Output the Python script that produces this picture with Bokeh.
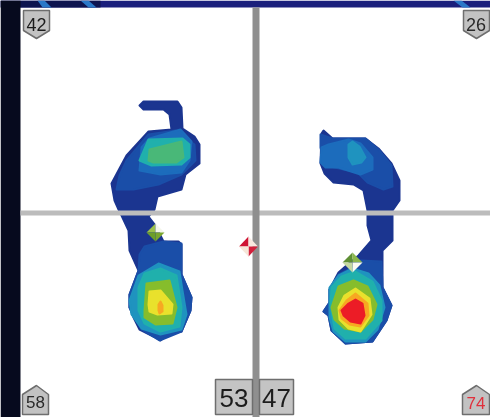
from bokeh.plotting import figure
from bokeh.models import Range1d
from bokeh.core.properties import value
from bokeh.embed import file_html
from bokeh.resources import INLINE

# Pressure-map colour scale, lowest to highest
LEVEL_COLORS = ["#1b3590", "#1a4ea8", "#1c6cbc", "#1f93bf", "#20b0ac", "#49b878", "#86bd2c", "#e9e12c", "#f7a822", "#ec1c26"]

# Foot outlines
foot_left_outer = [(139,105),(143,101),(177,101),(181,107),(182,128),(194,136),(199,144),(199,163),(185,174),(181,189),(157,196),(154,209),(148,216),(155,225),(163,241),(178,241),(181,244),(181,274),(191,297),(190,310),(181,331),(167,334),(160,340),(153,336),(139,329),(133,317),(129,307),(129,294),(138,270),(129,250),(128,230),(121,215),(118,209),(114,200),(111,183),(119,168),(126,155),(148,131),(171,129),(169,114),(163,109),(143,109)]
foot_right_outer = [(321,133),(323,130),(332,138),(365,138),(378,148),(391,163),(399,180),(399,200),(392,210),(392,240),(382,250),(382,287),(391,305),(386,320),(372,341),(345,343),(331,330),(328,315),(323,311),(329,302),(329,289),(338,272),(346,265),(358,255),(371,240),(367,225),(367,210),(363,190),(353,184),(333,182),(324,173),(320,163)]

# Contour bands: (level index, outline)
left_fore_bands = [
    (1, [(119,175),(126,160),(148,134),(175,130),(194,144),(195,160),(181,174),(158,184),(133,189),(116,189)]),
    (2, [(139,170),(141,147),(149,138),(180,129),(191,141),(189,160),(181,172),(160,174)]),
    (4, [(139,160),(148,139),(182,138),(189,144),(189,157),(181,164),(151,165)]),
    (5, [(148,160),(149,149),(181,141),(183,157),(176,162),(153,162)]),
]
left_heel_bands = [
    (1, [(139,254),(144,246),(163,241),(181,243),(181,274),(191,297),(190,310),(181,331),(159,340),(141,329),(129,307),(129,294),(138,270)]),
    (3, [(129,300),(138,275),(158,263),(179,271),(182,290),(186,314),(181,329),(160,334),(141,328),(131,314)]),
    (4, [(138,310),(138,287),(144,273),(160,268),(176,275),(181,307),(179,326),(160,331),(144,323)]),
    (6, [(144,310),(146,283),(169,280),(176,307),(172,323),(155,324),(144,317)]),
    (7, [(148,304),(149,291),(160,290),(172,304),(171,313),(157,314),(149,311)]),
    (8, [(158,304),(160,301),(162,305),(162,311),(159,313),(158,310)]),
]
right_fore_bands = [
    (1, [(320,134),(332,138),(365,138),(378,149),(391,165),(392,186),(383,189),(367,182),(357,172),(343,169),(330,166),(323,162),(320,147)]),
    (2, [(321,147),(328,144),(348,139),(360,143),(372,157),(372,169),(360,174),(338,167),(325,167),(320,162)]),
    (3, [(348,144),(352,141),(359,146),(365,157),(361,162),(352,164),(348,157)]),
]
right_heel_bands = [
    (1, [(346,270),(360,260),(381,261),(382,287),(391,305),(386,320),(372,341),(345,343),(331,330),(328,315),(323,311),(329,302),(329,289),(338,274)]),
    (3, [(329,287),(338,275),(352,268),(368,273),(379,285),(384,307),(377,329),(365,341),(345,341),(333,331),(329,317)]),
    (4, [(330,304),(331,287),(341,276),(355,271),(372,281),(381,300),(381,320),(365,338),(345,338),(334,328)]),
    (6, [(331,307),(338,286),(353,280),(367,286),(376,304),(372,319),(360,331),(344,328),(334,319)]),
    (7, [(338,307),(344,295),(355,288),(369,298),(371,314),(360,331),(348,328),(339,319)]),
    (8, [(339,310),(346,300),(355,293),(367,303),(368,315),(360,326),(349,324),(341,318)]),
    (9, [(341,310),(348,303),(355,299),(362,303),(364,315),(360,323),(350,321),(343,315)]),
]

# Balance markers: centre x, centre y, half-width, half-height, NW/NE/SE/SW colours
marker_x = [155, 352, 248]
marker_y = [232, 262, 246]
marker_hw = [9, 10, 9.5]
marker_hh = [9, 10, 10]
marker_colors = [
    ["#9cc04c", "#f4f6ea", "#7aa62e", "#6c9e2a"],
    ["#5f8f34", "#8cb84c", "#fbfbf2", "#c4d8a0"],
    ["#cf1434", "#f8e8e0", "#d2203c", "#f6e6d8"],
]

# Badges
badge_labels = ["42", "26", "58", "74"]
badge_text_colors = ["#1c1c1c", "#2a2a2a", "#2a2a2a", "#e0303c"]
badge_text_x = [36, 475.5, 35, 475.5]
badge_text_y = [24, 24, 401, 402]
badge_text_sizes = ["18px", "18px", "17px", "17px"]
badge_outlines = [
    [(23,10),(49,10),(49,30),(36,38),(23,30)],
    [(463,10),(489,10),(489,30),(476,38),(463,30)],
    [(22,394),(36,385),(48,394),(48,414),(22,414)],
    [(462,394),(476,385),(489,394),(489,414),(462,414)],
]
box_labels = ["53", "47"]
box_left = [215, 259]
box_right = [252, 293]
box_top = 379
box_bottom = 414


def xs_of(pts):
    return [q[0] for q in pts]


def ys_of(pts):
    return [q[1] for q in pts]


def blob(pts, color):
    p.patch(xs_of(pts), ys_of(pts), fill_color=color, line_color=color,
            line_width=2, line_join="round")


p = figure(width=490, height=417, output_backend="svg", toolbar_location=None,
           x_range=Range1d(0, 490), y_range=Range1d(417, 0), min_border=0)
p.axis.visible = False
p.grid.visible = False
p.outline_line_color = None
p.background_fill_color = "#ffffff"
p.styles = {"position": "fixed", "left": "0", "top": "0"}

# Dark slide behind the white panel
p.quad(left=[0], right=[490], top=[0], bottom=[7], fill_color="#1a1f7c", line_color=None)
p.quad(left=[0], right=[100], top=[0], bottom=[7], fill_color="#0e1550", line_color=None)
p.quad(left=[0], right=[20], top=[0], bottom=[417], fill_color="#060a1e", line_color=None)
for sx in ([37, 44, 51, 42], [80, 88, 96, 88], [453, 461, 470, 462]):
    p.patch(sx, [0, 0, 7, 7], fill_color="#2a78c8", line_color=None)

# Feet
blob(foot_left_outer, LEVEL_COLORS[0])
blob(foot_right_outer, LEVEL_COLORS[0])
for bands in (left_fore_bands, left_heel_bands, right_fore_bands, right_heel_bands):
    for lvl, pts in bands:
        blob(pts, LEVEL_COLORS[lvl])

# Cross lines
p.quad(left=[20], right=[490], top=[210], bottom=[215], fill_color="#bcbcbc", line_color=None)
p.quad(left=[252], right=[259], top=[7], bottom=[417], fill_color="#8f8f8f", line_color=None)

# Markers
for cx, cy, hw, hh, cols in zip(marker_x, marker_y, marker_hw, marker_hh, marker_colors):
    tris_x = [[cx, cx - hw, cx], [cx, cx, cx + hw], [cx, cx + hw, cx], [cx, cx, cx - hw]]
    tris_y = [[cy, cy, cy - hh], [cy, cy - hh, cy], [cy, cy, cy + hh], [cy, cy + hh, cy]]
    p.patches(tris_x, tris_y, fill_color=cols, line_color=None)

# Badges
for pts in badge_outlines:
    p.patch(xs_of(pts), ys_of(pts), fill_color="#c2c2c2", line_color="#6e6e6e", line_width=1.5)
p.text(badge_text_x, badge_text_y, text=badge_labels, text_color=badge_text_colors,
       text_font=value("Liberation Sans"), text_font_size=badge_text_sizes,
       text_align="center", text_baseline="middle")

p.quad(left=box_left, right=box_right, top=box_top, bottom=box_bottom,
       fill_color="#c4c4c4", line_color="#6e6e6e", line_width=1.5)
p.text([(a + b) / 2 for a, b in zip(box_left, box_right)], [397, 397], text=box_labels,
       text_color="#1c1c1c", text_font=value("Liberation Sans"), text_font_size="26px",
       text_align="center", text_baseline="middle")

open("out.html", "w").write(file_html(p, INLINE))
